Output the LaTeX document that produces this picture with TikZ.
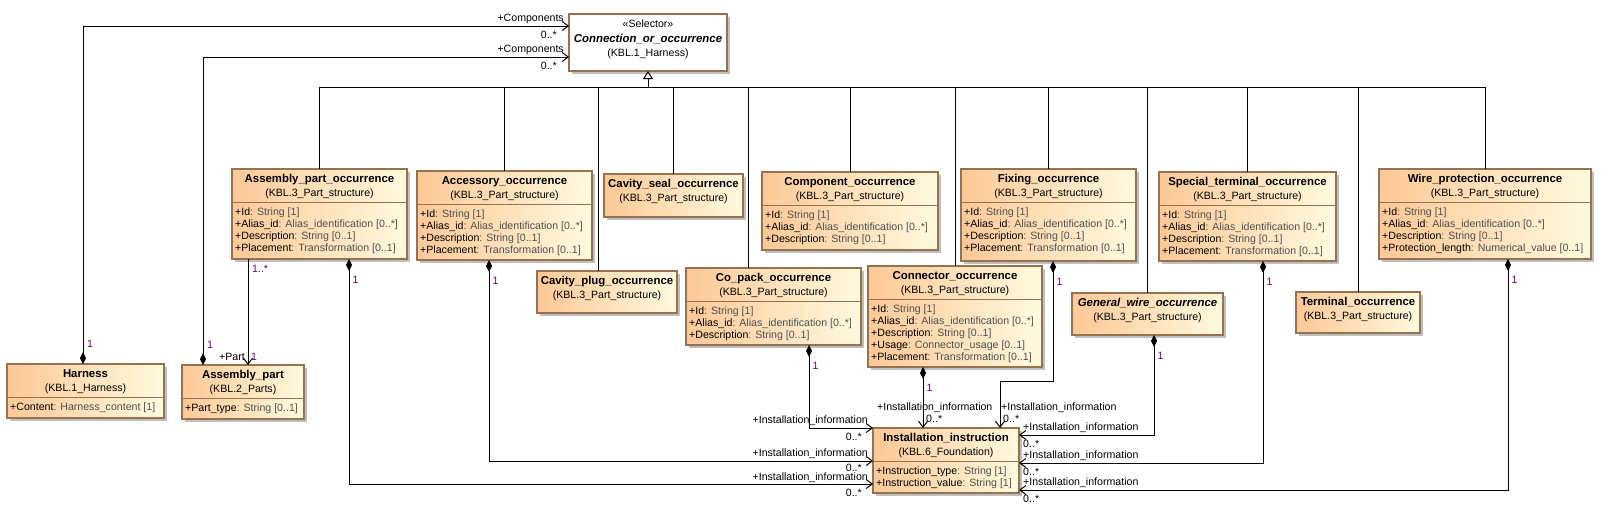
\documentclass[tikz,border=0pt]{standalone}
\usepackage{fontspec}
\setmainfont{Liberation Sans}
\usetikzlibrary{arrows.meta,shadows,calc}
\definecolor{fillL}{RGB}{253,200,150}
\definecolor{fillR}{RGB}{255,250,222}
\definecolor{bord}{RGB}{150,115,80}
\definecolor{tgray}{RGB}{80,80,80}
\definecolor{mult}{RGB}{102,0,102}
\tikzset{
 cls/.style={draw=bord, line width=1.1pt, left color=fillL, right color=fillR, inner sep=0pt, outer sep=0pt,
   drop shadow={shadow xshift=3pt, shadow yshift=-3pt, fill=black!25, opacity=1}},
 selbox/.style={draw=bord, line width=1.1pt, fill=white, inner sep=0pt, outer sep=0pt,
   drop shadow={shadow xshift=3pt, shadow yshift=-3pt, fill=black!25, opacity=1}},
 ttl/.style={font=\fontsize{11.4}{13}\selectfont\bfseries, inner sep=0pt, anchor=base},
 pkg/.style={font=\fontsize{10.6}{12}\selectfont, inner sep=0pt, anchor=base},
 attr/.style={font=\fontsize{10.6}{12}\selectfont, inner sep=0pt, anchor=base west},
 lbl/.style={font=\fontsize{10.6}{12}\selectfont, inner sep=0pt},
 ml/.style={lbl, text=mult},
 conn/.style={draw, line width=1pt},
 comp/.style={conn, {Diamond[length=12pt,width=6pt]}-{Straight Barb[length=6pt,width=9pt]}},
 nav/.style={conn, -{Straight Barb[length=6pt,width=9pt]}},
 gen/.style={conn, -{Triangle[open,length=8pt,width=10pt,fill=white]}},
}
\newcommand\ucls[5]{\node[cls, anchor=north west, minimum width={#4-#2}, minimum height={#5-#3}] (#1) at (#2,#3) {};}
\newcommand\uhead[3]{%
 \node[ttl] (#1-t) at ($(#1.north)+(0,13)$) {#2};
 \node[pkg] (#1-p) at ($(#1.north)+(0,27.5)$) {#3};}
\newcommand\usep[1]{\draw[draw=bord, line width=1.1pt] ($(#1.north west)+(0,33.5)$) -- ($(#1.north east)+(0,33.5)$);}
\newcommand\uattr[3]{\node[attr] (#1-a#2) at ($(#1.north west)+(3,{34+#2*12})$) {#3};}
\newcommand\av[2]{#1\textcolor{tgray}{ : #2}}
\begin{document}
\begin{tikzpicture}[x=1pt,y=-1pt]
\useasboundingbox (0,0) rectangle (1613,525);

% ---- selector
\node[selbox, anchor=north west, minimum width=158, minimum height=57] (coo) at (569,14) {};
\node[pkg] (coo-s) at ($(coo.north)+(0,13)$) {«Selector»};
\node[ttl, font=\fontsize{11.4}{13}\selectfont\bfseries\itshape] (coo-t) at ($(coo.north)+(0,28)$) {Connection\_or\_occurrence};
\node[pkg] (coo-p) at ($(coo.north)+(0,42.5)$) {(KBL.1\_Harness)};

% ---- classes
\ucls{harn}{7}{364}{164}{418}
\uhead{harn}{Harness}{(KBL.1\_Harness)}
\usep{harn}
\uattr{harn}{1}{\av{+Content}{Harness\_content [1]}}

\ucls{apart}{182}{365}{304}{419}
\uhead{apart}{Assembly\_part}{(KBL.2\_Parts)}
\usep{apart}
\uattr{apart}{1}{\av{+Part\_type}{String [0..1]}}

\ucls{apo}{232}{169}{407}{259}
\uhead{apo}{Assembly\_part\_occurrence}{(KBL.3\_Part\_structure)}
\usep{apo}
\uattr{apo}{1}{\av{+Id}{String [1]}}
\uattr{apo}{2}{\av{+Alias\_id}{Alias\_identification [0..*]}}
\uattr{apo}{3}{\av{+Description}{String [0..1]}}
\uattr{apo}{4}{\av{+Placement}{Transformation [0..1]}}

\ucls{acc}{417}{171}{592}{260}
\uhead{acc}{Accessory\_occurrence}{(KBL.3\_Part\_structure)}
\usep{acc}
\uattr{acc}{1}{\av{+Id}{String [1]}}
\uattr{acc}{2}{\av{+Alias\_id}{Alias\_identification [0..*]}}
\uattr{acc}{3}{\av{+Description}{String [0..1]}}
\uattr{acc}{4}{\av{+Placement}{Transformation [0..1]}}

\ucls{cseal}{604}{174}{743}{217}
\uhead{cseal}{Cavity\_seal\_occurrence}{(KBL.3\_Part\_structure)}

\ucls{cplug}{537}{271}{677}{313}
\uhead{cplug}{Cavity\_plug\_occurrence}{(KBL.3\_Part\_structure)}

\ucls{compo}{762}{172}{938}{250}
\uhead{compo}{Component\_occurrence}{(KBL.3\_Part\_structure)}
\usep{compo}
\uattr{compo}{1}{\av{+Id}{String [1]}}
\uattr{compo}{2}{\av{+Alias\_id}{Alias\_identification [0..*]}}
\uattr{compo}{3}{\av{+Description}{String [0..1]}}

\ucls{copack}{686}{268}{861}{345}
\uhead{copack}{Co\_pack\_occurrence}{(KBL.3\_Part\_structure)}
\usep{copack}
\uattr{copack}{1}{\av{+Id}{String [1]}}
\uattr{copack}{2}{\av{+Alias\_id}{Alias\_identification [0..*]}}
\uattr{copack}{3}{\av{+Description}{String [0..1]}}

\ucls{cnct}{868}{266}{1042}{367}
\uhead{cnct}{Connector\_occurrence}{(KBL.3\_Part\_structure)}
\usep{cnct}
\uattr{cnct}{1}{\av{+Id}{String [1]}}
\uattr{cnct}{2}{\av{+Alias\_id}{Alias\_identification [0..*]}}
\uattr{cnct}{3}{\av{+Description}{String [0..1]}}
\uattr{cnct}{4}{\av{+Usage}{Connector\_usage [0..1]}}
\uattr{cnct}{5}{\av{+Placement}{Transformation [0..1]}}

\ucls{fix}{961}{169}{1136}{261}
\uhead{fix}{Fixing\_occurrence}{(KBL.3\_Part\_structure)}
\usep{fix}
\uattr{fix}{1}{\av{+Id}{String [1]}}
\uattr{fix}{2}{\av{+Alias\_id}{Alias\_identification [0..*]}}
\uattr{fix}{3}{\av{+Description}{String [0..1]}}
\uattr{fix}{4}{\av{+Placement}{Transformation [0..1]}}

\ucls{gwire}{1072}{293}{1223}{335}
\uhead{gwire}{\itshape General\_wire\_occurrence}{(KBL.3\_Part\_structure)}

\ucls{spec}{1159}{172}{1336}{261}
\uhead{spec}{Special\_terminal\_occurrence}{(KBL.3\_Part\_structure)}
\usep{spec}
\uattr{spec}{1}{\av{+Id}{String [1]}}
\uattr{spec}{2}{\av{+Alias\_id}{Alias\_identification [0..*]}}
\uattr{spec}{3}{\av{+Description}{String [0..1]}}
\uattr{spec}{4}{\av{+Placement}{Transformation [0..1]}}

\ucls{term}{1296}{292}{1420}{333}
\uhead{term}{Terminal\_occurrence}{(KBL.3\_Part\_structure)}

\ucls{wpo}{1379}{169}{1591}{259}
\uhead{wpo}{Wire\_protection\_occurrence}{(KBL.3\_Part\_structure)}
\usep{wpo}
\uattr{wpo}{1}{\av{+Id}{String [1]}}
\uattr{wpo}{2}{\av{+Alias\_id}{Alias\_identification [0..*]}}
\uattr{wpo}{3}{\av{+Description}{String [0..1]}}
\uattr{wpo}{4}{\av{+Protection\_length}{Numerical\_value [0..1]}}

\ucls{inst}{873}{428}{1019}{493}
\uhead{inst}{Installation\_instruction}{(KBL.6\_Foundation)}
\usep{inst}
\uattr{inst}{1}{\av{+Instruction\_type}{String [1]}}
\uattr{inst}{2}{\av{+Instruction\_value}{String [1]}}

% ---- generalization bus
\coordinate (bus) at ($(coo.south)+(0,16)$);
\draw[gen] (bus) -- (coo.south);
\draw[conn] (bus -| apo.north) -- (bus -| wpo.north);
\coordinate (cplug-top) at ($(cplug.north)+(-9,0)$);
\coordinate (copack-top) at ($(copack.north)+(-25.5,0)$);
\foreach \b in {apo,acc,cseal,compo,cnct,fix,gwire,spec,term,wpo}
  \draw[conn] (\b.north) -- (\b.north |- bus);
\draw[conn] (cplug-top) -- (cplug-top |- bus);
\draw[conn] (copack-top) -- (copack-top |- bus);

% ---- Components
\coordinate (h-top) at ($(harn.north west)+(76,0)$);
\coordinate (coo-in1) at ($(coo.north west)+(0,12)$);
\draw[comp] (h-top) |- (coo-in1);
\node[lbl, anchor=base east] (lc1) at ($(coo-in1)+(-5,-5)$) {+Components};
\node[lbl, anchor=base east] (mc1) at ($(coo-in1)+(-12,12)$) {0..*};
\node[ml, anchor=base west] (mh1) at ($(h-top)+(4,-17)$) {1};

\coordinate (ap-top) at ($(apart.north west)+(21,0)$);
\coordinate (coo-in2) at ($(coo.north west)+(0,43)$);
\draw[comp] (ap-top) |- (coo-in2);
\node[lbl, anchor=base east] (lc2) at ($(coo-in2)+(-5,-5)$) {+Components};
\node[lbl, anchor=base east] (mc2) at ($(coo-in2)+(-12,12)$) {0..*};
\node[ml, anchor=base west] (ma1) at ($(ap-top)+(4,-17)$) {1};

% ---- Part
\coordinate (apo-b) at ($(apo.south west)+(16,0)$);
\coordinate (apart-in) at (apo-b |- apart.north);
\draw[nav] (apo-b) -- (apart-in);
\node[ml, anchor=base west] (mp1) at ($(apo-b)+(4,13)$) {1..*};
\node[lbl, anchor=base east] (lp) at ($(apart-in)+(-3,-5)$) {+Part};
\node[ml, anchor=base west] (mp2) at ($(apart-in)+(3,-5)$) {1};

% ---- Installation_information
\coordinate (i-l1) at ($(inst.north west)+(0,0)$);
\coordinate (i-l2) at ($(inst.north west)+(0,33)$);
\coordinate (i-l3) at ($(inst.north west)+(0,56)$);
\coordinate (i-t1) at ($(inst.north west)+(50,0)$);
\coordinate (i-t2) at ($(inst.north west)+(127,0)$);
\coordinate (i-r1) at ($(inst.north east)+(0,7)$);
\coordinate (i-r2) at ($(inst.north east)+(0,35)$);
\coordinate (i-r3) at ($(inst.north east)+(0,62)$);

\coordinate (d-apo) at ($(apo.south west)+(117,0)$);
\coordinate (d-acc) at ($(acc.south west)+(72,0)$);
\coordinate (d-copack) at ($(copack.south west)+(123,0)$);
\coordinate (d-cnct) at ($(cnct.south west)+(55,0)$);
\coordinate (d-fix) at ($(fix.south west)+(92,0)$);
\coordinate (d-gw) at ($(gwire.south west)+(82,0)$);
\coordinate (d-spec) at ($(spec.south west)+(104,0)$);
\coordinate (d-wpo) at ($(wpo.south west)+(129,0)$);
\coordinate (fix-bend) at ($(i-t2)+(0,-47)$);

\draw[comp] (d-apo) |- (i-l3);
\draw[comp] (d-acc) |- (i-l2);
\draw[comp] (d-copack) |- (i-l1);
\draw[comp] (d-cnct) -- (i-t1);
\draw[comp] (d-fix) |- (fix-bend) -- (i-t2);
\draw[comp] (d-gw) |- (i-r1);
\draw[comp] (d-spec) |- (i-r2);
\draw[comp] (d-wpo) |- (i-r3);

\foreach \d in {apo,acc,copack,cnct,fix,gw,spec,wpo}
  \node[ml, anchor=base west] (one-\d) at ($(d-\d)+(3.5,24)$) {1};

\foreach \p/\u/\v in {l1/-5/12,l2/-5/10.5,l3/-4/12}{
  \node[lbl, anchor=base east] (rl-\p) at ($(i-\p)+(-5,\u)$) {+Installation\_information};
  \node[lbl, anchor=base east] (ml-\p) at ($(i-\p)+(-11,\v)$) {0..*};
}
\node[lbl, anchor=base west] (rl-t1) at ($(i-t1)+(-46,-18)$) {+Installation\_information};
\node[lbl, anchor=base west] (ml-t1) at ($(i-t1)+(3,-6)$) {0..*};
\node[lbl, anchor=base west] (rl-t2) at ($(i-t2)+(1,-18)$) {+Installation\_information};
\node[lbl, anchor=base west] (ml-t2) at ($(i-t2)+(3,-6)$) {0..*};
\foreach \p in {r1,r2,r3}{
  \node[lbl, anchor=base west] (rl-\p) at ($(i-\p)+(4,-5)$) {+Installation\_information};
  \node[lbl, anchor=base west] (ml-\p) at ($(i-\p)+(4,12)$) {0..*};
}
\end{tikzpicture}
\end{document}
